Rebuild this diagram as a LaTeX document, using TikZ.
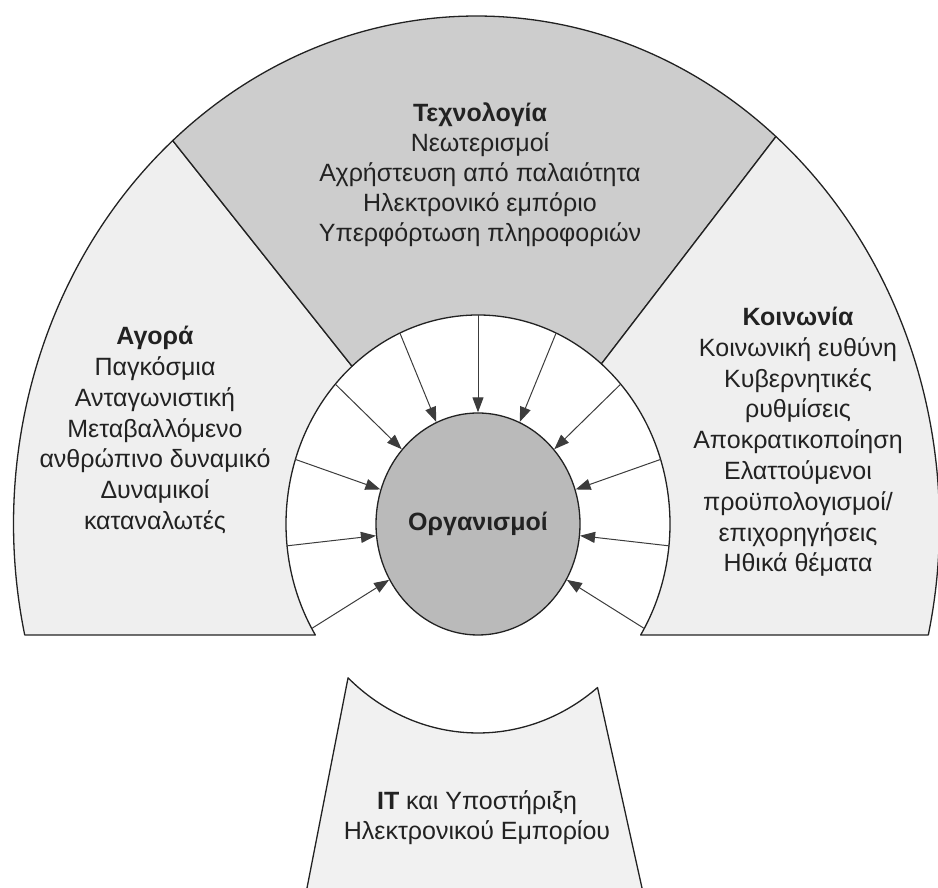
\documentclass[tikz,border=0pt]{standalone}
\usepackage{fontspec}
\setmainfont{Liberation Sans}
\usetikzlibrary{shapes.geometric,arrows.meta,calc}
\definecolor{topgray}{HTML}{CDCDCD}
\definecolor{sidegray}{HTML}{EFEFEF}
\definecolor{orggray}{HTML}{BABABA}
\definecolor{itgray}{HTML}{F1F1F1}
\definecolor{inkgray}{HTML}{222222}
\definecolor{arrgray}{HTML}{3C3C3C}
\tikzset{
  x=1pt, y=1pt,
  region/.style={draw=inkgray, line width=1.3pt, line join=round},
  lbl/.style={align=center, text=inkgray, font=\fontsize{25}{30.8}\selectfont, inner sep=0pt},
  arr/.style={draw=arrgray, line width=1pt, -{Triangle[length=15pt,width=11pt]}},
}
\begin{document}
\begin{tikzpicture}
\useasboundingbox (0,0) rectangle (938,888);
\coordinate (C) at (478,364);
\coordinate (Co) at (476.5,364);
% left region (market)
\draw[region, fill=sidegray] ([shift={(192.62:463pt and 508pt)}]Co)
  arc[start angle=192.62, end angle=131, x radius=463pt, y radius=508pt]
  -- ([shift={(131:192pt and 209pt)}]C)
  arc[start angle=131, end angle=212.08, x radius=192pt, y radius=209pt]
  -- cycle;
% top region (technology)
\draw[region, fill=topgray] ([shift={(131:463pt and 508pt)}]Co)
  arc[start angle=131, end angle=49.7, x radius=463pt, y radius=508pt]
  -- ([shift={(50:192pt and 209pt)}]C)
  arc[start angle=50, end angle=131, x radius=192pt, y radius=209pt]
  -- cycle;
% right region (society)
\draw[region, fill=sidegray] ([shift={(-12.62:463pt and 508pt)}]Co)
  arc[start angle=-12.62, end angle=49.7, x radius=463pt, y radius=508pt]
  -- ([shift={(50:192pt and 209pt)}]C)
  arc[start angle=50, end angle=-32.08, x radius=192pt, y radius=209pt]
  -- cycle;
% bottom IT shape
\coordinate (itbl) at (307,0);
\coordinate (itbr) at (642,0);
\coordinate (ittl) at ([shift={(227.4:192pt and 209pt)}]C);
\fill[itgray] (itbl) -- (ittl)
  arc[start angle=227.4, end angle=308.5, x radius=192pt, y radius=209pt]
  -- (itbr) -- cycle;
\draw[region] (itbl) -- (ittl)
  arc[start angle=227.4, end angle=308.5, x radius=192pt, y radius=209pt]
  -- (itbr);
% central organisation
\node[ellipse, draw=inkgray, line width=1.3pt, fill=orggray, minimum width=204pt,
      minimum height=222pt, inner sep=0pt, lbl] (org) at (C) {\textbf{Οργανισμοί}};
% arrows
\foreach \k in {-5,...,5}{
  \pgfmathsetmacro{\ang}{90+24*\k}
  \coordinate (s\k) at ([shift={(\ang:192pt and 209pt)}]C);
  \draw[arr] (s\k) -- (org);
}
% labels
\node[lbl, font=\fontsize{25}{30}\selectfont] (tech) at (480,713) {\textbf{Τεχνολογία}\\Νεωτερισμοί\\Αχρήστευση από παλαιότητα\\Ηλεκτρονικό εμπόριο\\Υπερφόρτωση πληροφοριών};
\node[lbl] (market) at (155,458) {\textbf{Αγορά}\\Παγκόσμια\\Ανταγωνιστική\\Μεταβαλλόμενο\\ανθρώπινο δυναμικό\\Δυναμικοί\\καταναλωτές};
\node[lbl] (society) at (798,446) {\textbf{Κοινωνία}\\Κοινωνική ευθύνη\\Κυβερνητικές\\ρυθμίσεις\\Αποκρατικοποίηση\\Ελαττούμενοι\\προϋπολογισμοί/\\επιχορηγήσεις\\Ηθικά θέματα};
\node[lbl, font=\fontsize{25}{30}\selectfont] (it) at (477,70) {\textbf{IT} και Υποστήριξη\\Ηλεκτρονικού Εμπορίου};
\end{tikzpicture}
\end{document}
